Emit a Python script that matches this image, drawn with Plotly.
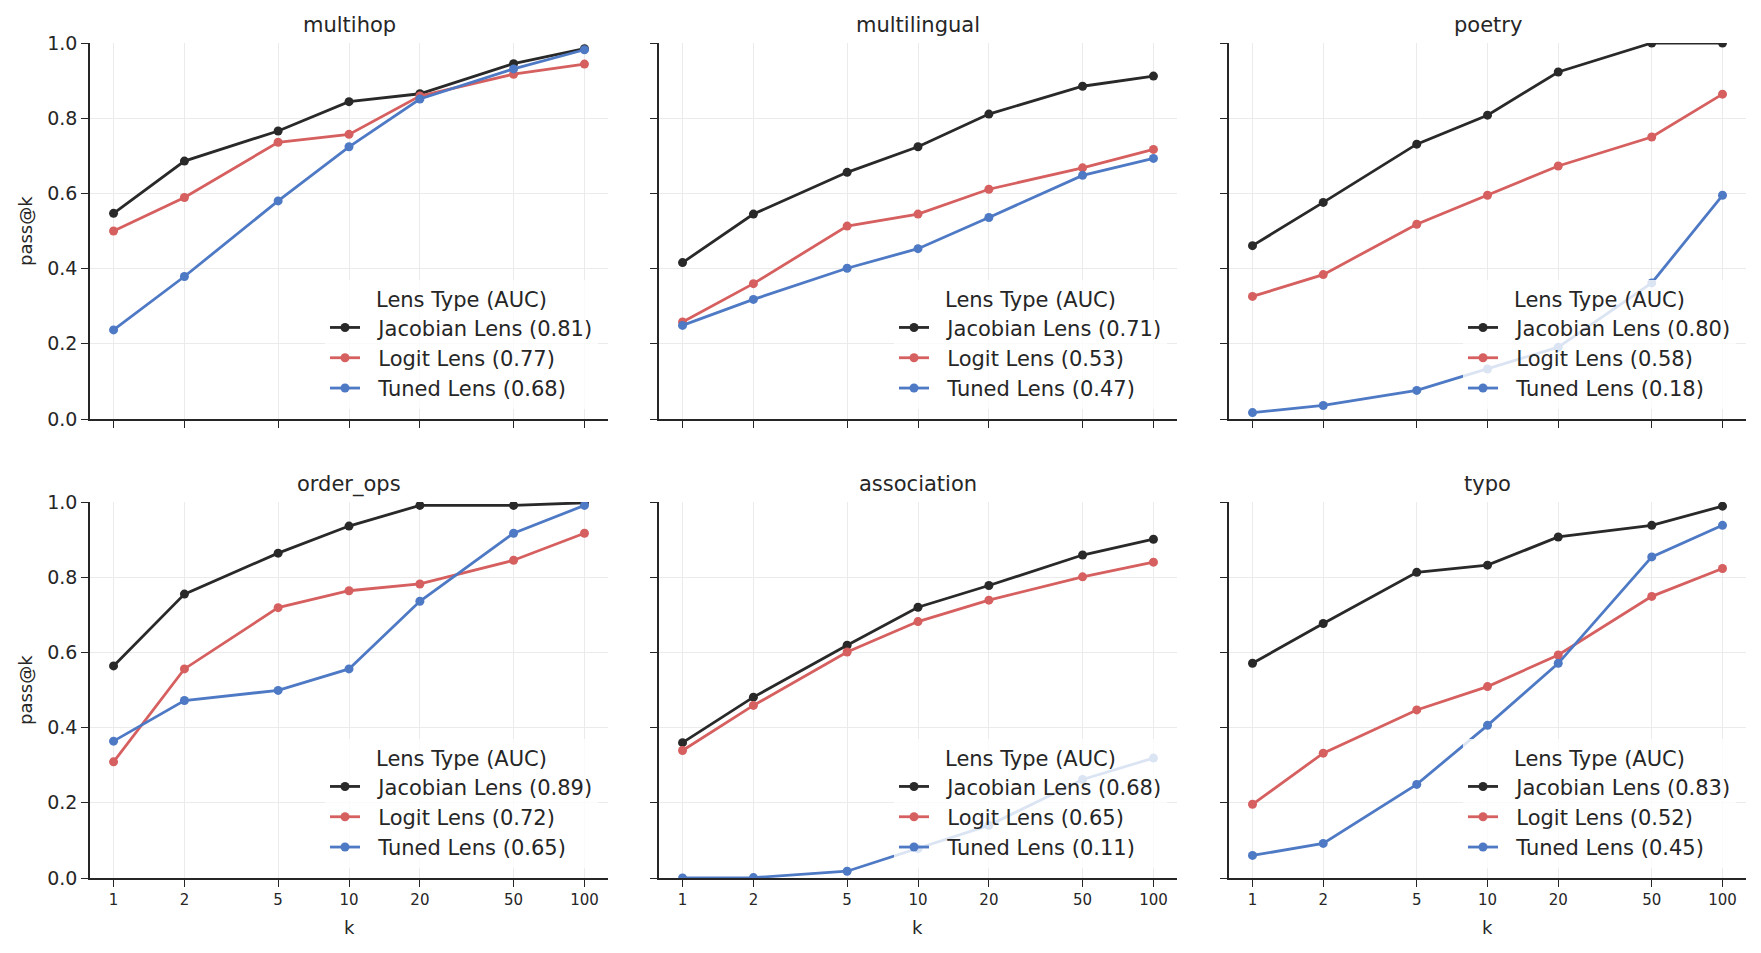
import plotly.graph_objects as go

W, H = 1761, 953

K = [1, 2, 5, 10, 20, 50, 100]
K_LABELS = ["1", "2", "5", "10", "20", "50", "100"]

TASKS = ["multihop", "multilingual", "poetry", "order_ops", "association", "typo"]

jacobian = {
    "multihop":     [0.547, 0.686, 0.766, 0.844, 0.865, 0.945, 0.985],
    "multilingual": [0.416, 0.545, 0.656, 0.724, 0.811, 0.885, 0.912],
    "poetry":       [0.461, 0.576, 0.731, 0.808, 0.923, 1.000, 1.000],
    "order_ops":    [0.564, 0.755, 0.864, 0.936, 0.991, 0.991, 0.998],
    "association":  [0.360, 0.481, 0.619, 0.720, 0.778, 0.859, 0.901],
    "typo":         [0.571, 0.677, 0.813, 0.832, 0.907, 0.938, 0.989],
}
logit = {
    "multihop":     [0.500, 0.589, 0.736, 0.757, 0.859, 0.917, 0.944],
    "multilingual": [0.258, 0.360, 0.513, 0.545, 0.611, 0.668, 0.717],
    "poetry":       [0.326, 0.384, 0.518, 0.595, 0.673, 0.750, 0.864],
    "order_ops":    [0.309, 0.556, 0.719, 0.764, 0.782, 0.845, 0.917],
    "association":  [0.339, 0.459, 0.601, 0.682, 0.739, 0.801, 0.840],
    "typo":         [0.196, 0.332, 0.447, 0.509, 0.593, 0.749, 0.823],
}
tuned = {
    "multihop":     [0.237, 0.379, 0.580, 0.724, 0.851, 0.931, 0.982],
    "multilingual": [0.249, 0.318, 0.401, 0.453, 0.536, 0.648, 0.693],
    "poetry":       [0.017, 0.036, 0.076, 0.133, 0.191, 0.362, 0.595],
    "order_ops":    [0.364, 0.472, 0.499, 0.556, 0.736, 0.917, 0.991],
    "association":  [0.000, 0.001, 0.018, 0.078, 0.140, 0.262, 0.319],
    "typo":         [0.060, 0.092, 0.249, 0.406, 0.571, 0.854, 0.938],
}
# AUC values shown in legend
auc_jacobian = [0.81, 0.71, 0.80, 0.89, 0.68, 0.83]
auc_logit = [0.77, 0.53, 0.58, 0.72, 0.65, 0.52]
auc_tuned = [0.68, 0.47, 0.18, 0.65, 0.11, 0.45]

INK = "#262626"
COLORS = {"Jacobian Lens": "#292929", "Logit Lens": "#d65f5f", "Tuned Lens": "#4e79c4"}
FONT = "DejaVu Sans"
PAD = "\u00a0\u00a0"  # extra gap between handle and label, like matplotlib

# page body has an 8px margin, so pull everything up/left by that much
OFF = 8
# panel boxes in pixels (left, right, top, bottom)
COLS_PX = [(90 - OFF, 608 - OFF), (659 - OFF, 1177 - OFF), (1229 - OFF, 1746 - OFF)]
ROWS_PX = [(43 - OFF, 419 - OFF), (502 - OFF, 878 - OFF)]

fig = go.Figure()
layout = {}

for i, task in enumerate(TASKS):
    r, c = divmod(i, 3)
    n = i + 1
    xa = "x" if n == 1 else f"x{n}"
    ya = "y" if n == 1 else f"y{n}"
    lg = "legend" if n == 1 else f"legend{n}"

    series = [
        ("Jacobian Lens", jacobian[task], auc_jacobian[i]),
        ("Logit Lens", logit[task], auc_logit[i]),
        ("Tuned Lens", tuned[task], auc_tuned[i]),
    ]
    for name, vals, auc in series:
        fig.add_trace(go.Scatter(
            x=K, y=vals, mode="lines+markers",
            name=f"{PAD}{name} ({auc:.2f})",
            line=dict(color=COLORS[name], width=2.8),
            marker=dict(color=COLORS[name], size=9),
            xaxis=xa, yaxis=ya, legend=lg,
        ))

    x0, x1 = COLS_PX[c]
    y0, y1 = ROWS_PX[r]
    xd = [x0 / W, x1 / W]
    yd = [1 - y1 / H, 1 - y0 / H]

    axis_common = dict(
        showline=True, linecolor=INK, linewidth=1.6,
        ticks="outside", ticklen=7, tickwidth=1.4, tickcolor=INK,
        showgrid=True, gridcolor="#ebebeb", gridwidth=1,
        zeroline=False, automargin=False,
    )
    layout["xaxis" if n == 1 else f"xaxis{n}"] = dict(
        axis_common, type="log", range=[-0.1, 2.1], domain=xd,
        tickvals=K, ticktext=K_LABELS, showticklabels=(r == 1),
        tickfont=dict(size=15, color=INK), anchor=ya,
    )
    layout["yaxis" if n == 1 else f"yaxis{n}"] = dict(
        axis_common, range=[0, 1], domain=yd, dtick=0.2, tickformat=".1f",
        showticklabels=(c == 0), tickfont=dict(size=19, color=INK), anchor=xa,
    )
    layout[lg] = dict(
        x=xd[1] - 10 / W, xanchor="right",
        y=yd[0] + 10 / H, yanchor="bottom",
        bgcolor="rgba(255,255,255,0.8)", borderwidth=0,
        font=dict(size=21, color=INK, family=FONT),
        title=dict(text="Lens Type (AUC)", side="top center",
                   font=dict(size=21, color=INK, family=FONT)),
        tracegroupgap=0,
    )

annotations = []
for i, task in enumerate(TASKS):
    r, c = divmod(i, 3)
    x0, x1 = COLS_PX[c]
    y0, _ = ROWS_PX[r]
    annotations.append(dict(
        text=task, x=(x0 + x1) / 2 / W, y=1 - (y0 - 18) / H,
        xref="paper", yref="paper", showarrow=False,
        xanchor="center", yanchor="middle",
        font=dict(size=21, color=INK),
    ))
for r in range(2):
    y0, y1 = ROWS_PX[r]
    annotations.append(dict(
        text="pass@k", x=(25 - OFF) / W, y=1 - (y0 + y1) / 2 / H,
        xref="paper", yref="paper", showarrow=False, textangle=-90,
        xanchor="center", yanchor="middle",
        font=dict(size=18, color=INK),
    ))
for c in range(3):
    x0, x1 = COLS_PX[c]
    annotations.append(dict(
        text="k", x=(x0 + x1) / 2 / W, y=1 - (927 - OFF) / H,
        xref="paper", yref="paper", showarrow=False,
        xanchor="center", yanchor="middle",
        font=dict(size=18, color=INK),
    ))

fig.update_layout(
    **layout,
    annotations=annotations,
    width=W, height=H,
    margin=dict(l=0, r=0, t=0, b=0, autoexpand=False),
    paper_bgcolor="white", plot_bgcolor="white",
    font=dict(family=FONT, color=INK),
    showlegend=True,
)

fig.write_html("out.html")
